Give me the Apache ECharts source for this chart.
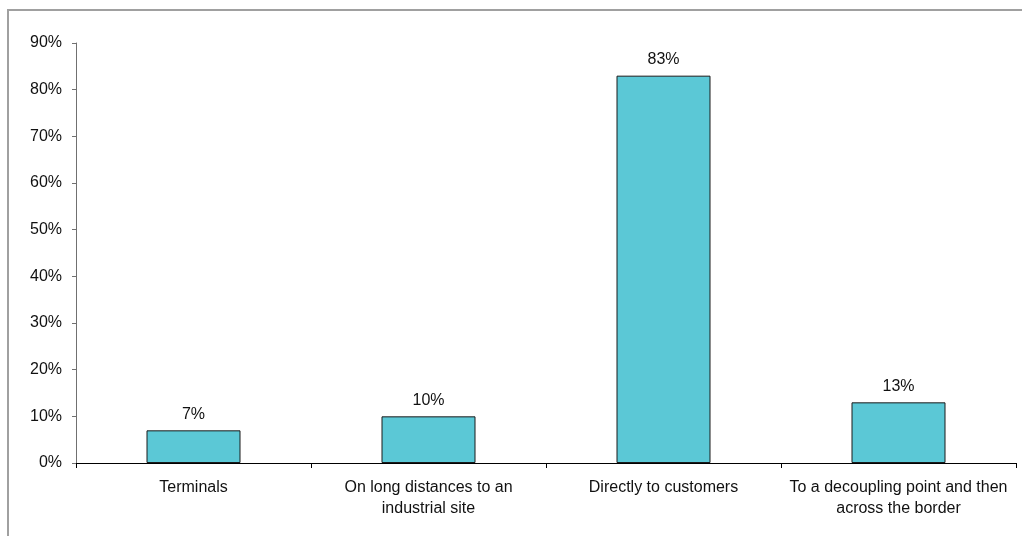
<!DOCTYPE html>
<html>
<head>
<meta charset="utf-8">
<style>
  html, body { margin: 0; padding: 0; background: #fff; }
  #chart { width: 1022px; height: 536px; }
</style>
<script src="https://cdn.jsdelivr.net/npm/echarts@6/dist/echarts.min.js"></script>
</head>
<body>
<div id="chart"></div>
<script>
// Destinations and share of respondents (%)
const categories = [
  'Terminals',
  'On long distances to an\nindustrial site',
  'Directly to customers',
  'To a decoupling point and then\nacross the border'
];
const shares = [7, 10, 83, 13];

const chart = echarts.init(document.getElementById('chart'), null, { renderer: 'canvas' });
const font = '"Liberation Sans", Arial, sans-serif';

chart.setOption({
  animation: false,
  backgroundColor: '#ffffff',
  graphic: [{
    type: 'rect',
    shape: { x: 8, y: 10, width: 1100, height: 600 },
    style: { fill: 'none', stroke: '#a0a0a0', lineWidth: 2 },
    silent: true
  }],
  grid: { left: 76, right: 6, top: 43, bottom: 73 },
  xAxis: {
    type: 'category',
    data: categories,
    axisLine: { lineStyle: { color: '#000', width: 1 } },
    axisTick: { show: true, alignWithLabel: false, length: 5, lineStyle: { color: '#000' } },
    axisLabel: {
      interval: 0, margin: 14,
      fontFamily: font, fontSize: 16, color: '#111', lineHeight: 21
    }
  },
  yAxis: {
    type: 'value',
    min: 0, max: 90, interval: 10,
    axisLine: { show: true, lineStyle: { color: '#707070', width: 1 } },
    axisTick: { show: true, length: 4, lineStyle: { color: '#707070' } },
    splitLine: { show: false },
    axisLabel: {
      formatter: '{value}%', margin: 14,
      fontFamily: font, fontSize: 16, color: '#111'
    }
  },
  series: [{
    type: 'bar',
    data: shares,
    barWidth: '40%',
    itemStyle: { color: '#5bc8d6', borderColor: '#1a1a1a', borderWidth: 1 },
    label: {
      show: true, position: 'top', distance: 8,
      formatter: '{c}%',
      fontFamily: font, fontSize: 16, color: '#111'
    }
  }]
});
</script>
</body>
</html>
